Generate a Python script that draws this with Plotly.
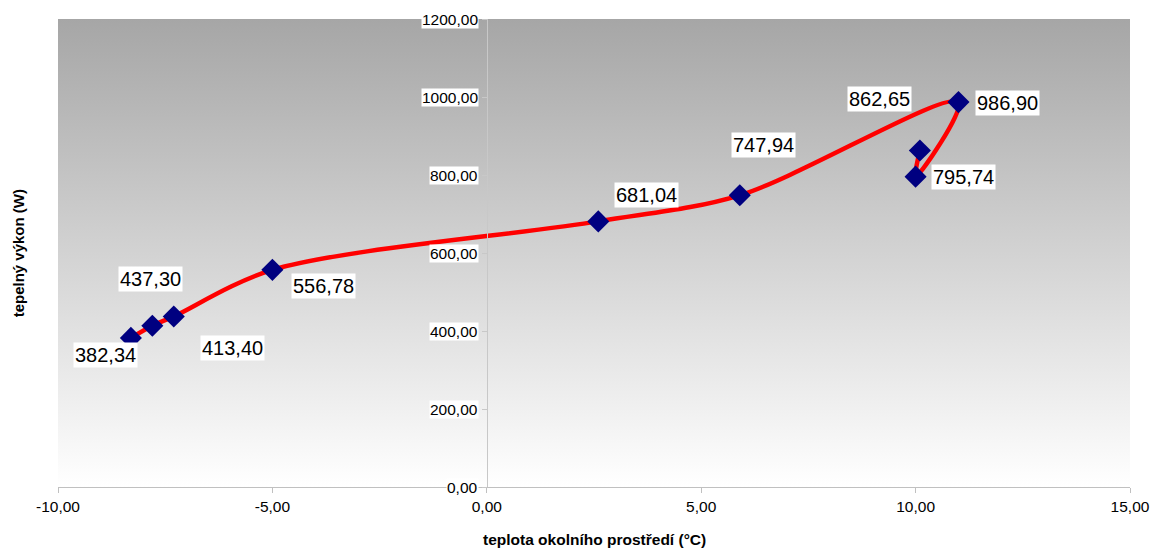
import plotly.graph_objects as go

# Measured heat output versus ambient temperature (plotted in measurement order)
teplota = [-8.3, -7.8, -7.3, -5.0, 2.6, 5.9, 11.0, 10.0, 10.1]
vykon = [382.34, 413.40, 437.30, 556.78, 681.04, 747.94, 986.90, 795.74, 862.65]

# Pixel offsets of each value label from its point (dx right, dy down)
label_dx = [-25, 80, -23, 51, 48, 24, 49, 48, -40]
label_dy = [17, 22, -37, 16, -26, -50, 1, 0, -52]

x_ticks = [-10, -5, 0, 5, 10, 15]
y_ticks = [0, 200, 400, 600, 800, 1000, 1200]

x_title = "teplota okolního prostředí (°C)"
y_title = "tepelný výkon (W)"

FONT = "Arial, 'Liberation Sans', sans-serif"


def cz(v):
    return f"{v:.2f}".replace(".", ",")


fig = go.Figure()

fig.add_trace(go.Scatter(
    x=teplota, y=vykon,
    mode="lines+markers",
    line=dict(color="#ff0000", width=4.5, shape="spline", smoothing=0.9),
    marker=dict(symbol="diamond", size=17, color="#000080",
                line=dict(width=0)),
    showlegend=False,
    hoverinfo="x+y",
))

annotations = []
for x, y, dx, dy in zip(teplota, vykon, label_dx, label_dy):
    annotations.append(dict(
        x=x, y=y, xref="x", yref="y",
        text=cz(y), showarrow=False,
        xshift=dx, yshift=-dy,
        font=dict(family=FONT, size=20, color="#000000"),
        bgcolor="#ffffff", borderpad=1,
    ))

# Value-axis labels drawn beside the axis at x = 0, on white boxes
for v in y_ticks:
    annotations.append(dict(
        x=0, y=v, xref="x", yref="y",
        text=cz(v), showarrow=False,
        xanchor="right", yanchor="middle", xshift=-8,
        font=dict(family=FONT, size=15.5, color="#000000"),
        bgcolor="#ffffff", borderpad=0,
    ))

annotations.append(dict(
    x=0.5, y=-0.113, xref="paper", yref="paper",
    text=f"<b>{x_title}</b>", showarrow=False,
    xanchor="center", yanchor="middle",
    font=dict(family=FONT, size=15.5, color="#000000"),
))
annotations.append(dict(
    x=-0.037, y=0.5, xref="paper", yref="paper",
    text=f"<b>{y_title}</b>", showarrow=False, textangle=-90,
    xanchor="center", yanchor="middle",
    font=dict(family=FONT, size=15, color="#000000"),
))

# Vertical grey-to-white gradient behind the plotting area
gradient_svg = (
    "data:image/svg+xml;charset=utf-8,"
    "%3Csvg xmlns='http://www.w3.org/2000/svg' width='100' height='100' preserveAspectRatio='none'%3E"
    "%3Cdefs%3E%3ClinearGradient id='g' x1='0' y1='0' x2='0' y2='1'%3E"
    "%3Cstop offset='0' stop-color='%23a6a6a6'/%3E"
    "%3Cstop offset='1' stop-color='%23ffffff'/%3E"
    "%3C/linearGradient%3E%3C/defs%3E"
    "%3Crect width='100' height='100' fill='url(%23g)'/%3E%3C/svg%3E"
)

fig.update_layout(
    width=1155, height=552,
    margin=dict(l=58, r=25, t=19, b=65),
    paper_bgcolor="#ffffff",
    plot_bgcolor="rgba(0,0,0,0)",
    separators=", ",
    font=dict(family=FONT, color="#000000"),
    images=[dict(
        source=gradient_svg, xref="paper", yref="paper",
        x=0, y=1, sizex=1, sizey=1, sizing="stretch",
        xanchor="left", yanchor="top", layer="below",
    )],
    xaxis=dict(
        range=[-10, 15], tickvals=x_ticks,
        ticktext=[cz(v) for v in x_ticks],
        showgrid=False, zeroline=False, automargin=False,
        showline=True, linecolor="#c0c0c0", linewidth=1,
        ticks="outside", ticklen=5, tickcolor="#c0c0c0",
        tickfont=dict(family=FONT, size=15.5, color="#000000"),
        fixedrange=True,
    ),
    yaxis=dict(
        range=[0, 1200], tickvals=y_ticks,
        showticklabels=False, automargin=False,
        anchor="free", position=0.4,
        showgrid=False, zeroline=False,
        showline=True, linecolor="#c8c8c8", linewidth=1,
        ticks="outside", ticklen=5, tickcolor="#c8c8c8",
        fixedrange=True,
    ),
    annotations=annotations,
)

fig.write_html("out.html")
